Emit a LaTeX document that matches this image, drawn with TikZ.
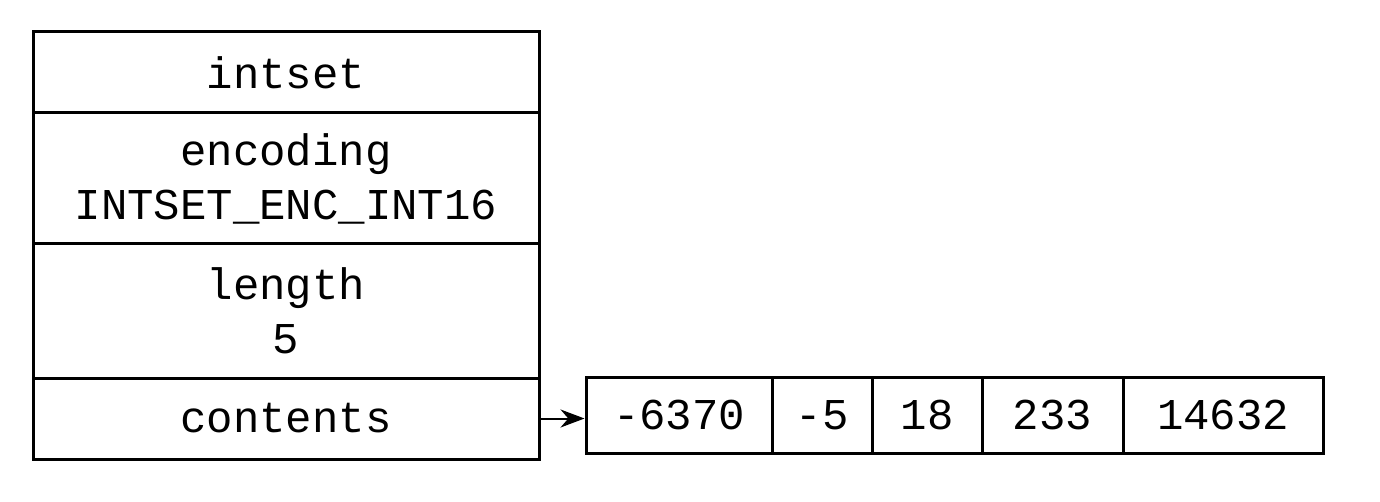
\documentclass[tikz,border=0pt]{standalone}
\usepackage{fontspec}
\setmonofont{Liberation Mono}
\usetikzlibrary{arrows.meta}
\begin{document}
\begin{tikzpicture}[x=0.25pt,y=-0.25pt,
    field/.style={draw, line width=0.75pt, inner sep=0pt, minimum width=126.5pt, align=center, font=\ttfamily\fontsize{11}{13.5}\selectfont},
    cell/.style={draw, line width=0.75pt, inner sep=0pt, minimum height=19pt, font=\ttfamily\fontsize{11}{13.5}\selectfont}]
    \useasboundingbox (0,0) rectangle (1380,502);
    % intset structure
    \node[field, minimum height=20.25pt] (intset) at (286,72.5) {intset};
    \node[field, minimum height=32.75pt] (encoding) at (286,178.5) {encoding\\INTSET\_ENC\_INT16};
    \node[field, minimum height=33.5pt] (length) at (286,311) {length\\5};
    \node[field, minimum height=20.25pt] (contents) at (286,418.5) {contents};

    % contents array
    \node[cell, minimum width=46.5pt] (c1) at (679,415) {-6370};
    \node[cell, minimum width=25pt] (c2) at (822,415) {-5};
    \node[cell, minimum width=27.5pt] (c3) at (927,415) {18};
    \node[cell, minimum width=35.25pt] (c4) at (1052.5,415) {233};
    \node[cell, minimum width=50pt] (c5) at (1223,415) {14632};

    \draw[line width=0.5pt, -{Stealth[length=6pt,width=4.5pt]}] (contents.east) -- (contents.east -| c1.west);
\end{tikzpicture}
\end{document}
